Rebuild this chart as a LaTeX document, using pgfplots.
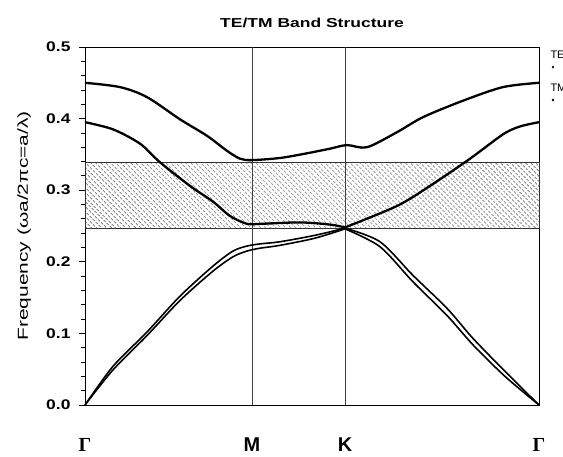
\documentclass[border=0pt]{standalone}
\usepackage{graphicx}
\usepackage{pgfplots}
\pgfplotsset{compat=1.18}
\usepackage{fontspec}
\setmainfont{Liberation Sans}
\newfontfamily\serifg{Liberation Serif}
\usetikzlibrary{patterns.meta}
\begin{document}
\begin{tikzpicture}[x=1bp,y=1bp]
\begin{axis}[
  scale only axis, width=454bp, height=358bp,
  xmin=0, xmax=454, ymin=0, ymax=0.5,
  axis line style={line width=0.9bp},
  ytick={0,0.1,0.2,0.3,0.4,0.5},
  minor y tick num=4,
  yticklabels={\scalebox{1.25}[1]{0.0},\scalebox{1.25}[1]{0.1},\scalebox{1.25}[1]{0.2},\scalebox{1.25}[1]{0.3},\scalebox{1.25}[1]{0.4},\scalebox{1.25}[1]{0.5}},
  yticklabel style={font=\bfseries\fontsize{14}{15}\selectfont, xshift=-5bp},
  tick align=outside,
  ytick pos=left, xtick pos=bottom,
  major tick length=6bp, minor tick length=4bp,
  every tick/.append style={black, line width=0.8bp},
  xtick={0,167,260,454},
  xticklabels={{\serifg\bfseries Γ}, M, K, {\serifg\bfseries Γ}},
  xticklabel style={font=\bfseries\fontsize{20}{21}\selectfont, anchor=center, yshift=-34bp},
  x tick style={draw=none},
  ylabel={\scalebox{1.45}[1]{Frequency (ωa/2πc=a/λ)}},
  ylabel style={font=\fontsize{14.5}{15}\selectfont, at={(axis description cs:-0.134,0.5)}, anchor=center},
  title={\scalebox{1.35}[1]{TE/TM Band Structure}},
  title style={font=\bfseries\fontsize{13}{14}\selectfont, at={(axis description cs:0.5,1)}, anchor=center, yshift=18bp},
  clip=false,
]
% band gap
\addplot[draw=black!80, line width=0.7bp, pattern={Lines[angle=-45,distance=3.6bp,line width=0.9bp]}, pattern color=black!70]
  coordinates {(0,0.247) (454,0.247) (454,0.339) (0,0.339)} -- cycle;
% symmetry lines
\addplot[line width=0.7bp, black!75] coordinates {(167,0) (167,0.5)};
\addplot[line width=0.7bp, black!75] coordinates {(260,0) (260,0.5)};
% top band
\addplot[line width=2.3bp, smooth] coordinates {
 (0,0.450) (35,0.444) (62,0.430) (95,0.399) (122,0.376) (142,0.355) (155,0.344) (167,0.342)
 (195,0.345) (220,0.351) (245,0.358) (262,0.363) (282,0.360) (312,0.381)
 (338,0.402) (378,0.425) (418,0.444) (454,0.450)};
% second band
\addplot[line width=2.3bp, smooth] coordinates {
 (0,0.395) (28,0.385) (55,0.365) (75,0.339) (105,0.306) (128,0.284) (145,0.264)
 (162,0.253) (175,0.253) (215,0.255) (245,0.252) (260,0.248)};
\addplot[line width=2.3bp, smooth] coordinates {
 (260,0.248) (312,0.278) (345,0.306) (385,0.344) (418,0.378) (435,0.389) (454,0.395)};
% lower bands (double lines)
\addplot[line width=1.6bp, smooth] coordinates {
 (0,0) (28,0.054) (62,0.102) (95,0.152) (128,0.194) (148,0.215) (162,0.222)
 (175,0.225) (195,0.228) (230,0.237) (260,0.247)};
\addplot[line width=1.6bp, smooth] coordinates {
 (0,0) (28,0.049) (62,0.097) (95,0.146) (128,0.187) (148,0.207) (162,0.215)
 (175,0.219) (195,0.223) (230,0.233) (260,0.246)};
\addplot[line width=1.6bp, smooth] coordinates {
 (260,0.247) (295,0.228) (328,0.181) (362,0.135) (388,0.093) (420,0.047) (454,0)};
\addplot[line width=1.6bp, smooth] coordinates {
 (260,0.246) (295,0.221) (328,0.172) (362,0.125) (388,0.084) (420,0.040) (454,0)};
% partial legend (cut off at the right edge, as in the reference)
\node[anchor=west, font=\fontsize{11}{12}\selectfont] at (axis cs:462,0.489) {TE};
\node[anchor=west, font=\fontsize{11}{12}\selectfont] at (axis cs:462,0.443) {TM};
\addplot[only marks, mark=*, mark size=1bp] coordinates {(468,0.472) (468,0.426)};
\end{axis}
\pgfresetboundingbox
\path[use as bounding box] (-85bp,-52bp) rectangle (478bp,405bp);
\end{tikzpicture}
\end{document}
